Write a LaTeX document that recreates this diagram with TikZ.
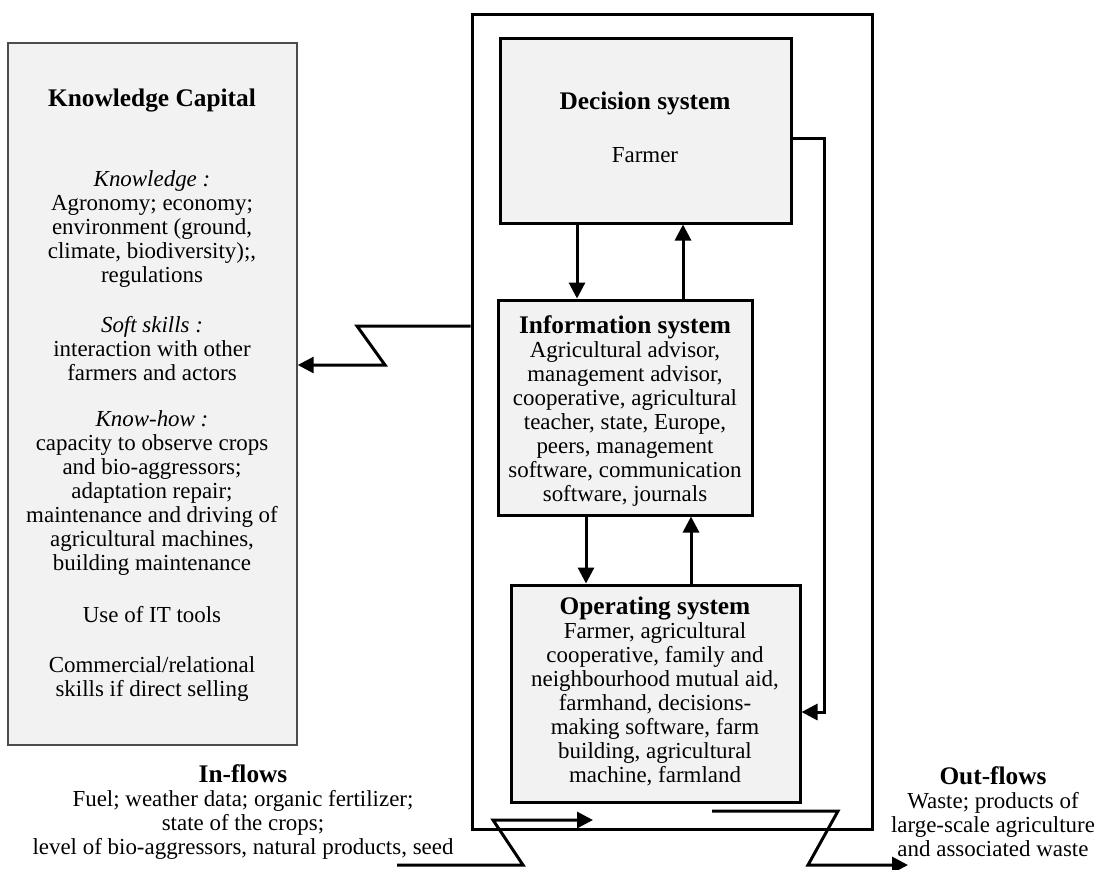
\documentclass[tikz,border=0pt]{standalone}
\usepackage{fontspec}
\setmainfont{Liberation Serif}
\usetikzlibrary{arrows.meta,fit}
\definecolor{boxgray}{HTML}{F2F2F2}
\newcommand\myfs{\fontsize{17.2}{18}\selectfont}
\newcommand\mybf{\fontsize{19}{18}\selectfont\bfseries}
\begin{document}
\begin{tikzpicture}[x=0.75pt,y=-0.75pt,
  sysbox/.style={draw, line width=2.25pt, fill=boxgray, inner sep=0pt},
  knowbox/.style={draw=black!70, line width=1.1pt, fill=boxgray, inner sep=0pt},
  framebox/.style={draw, line width=2.25pt, inner sep=0pt},
  txt/.style={font=\myfs, align=center, inner sep=0pt},
  btxt/.style={font=\mybf, align=center, inner sep=0pt},
  conn/.style={line width=2.25pt},
  arr/.style={conn, -{Triangle[length=12pt,width=12pt]}}]
\useasboundingbox (0,0) rectangle (1094,869);
% boxes
\node[framebox, fit={(472,14) (872,829)}] (frame) {};
\node[knowbox, fit={(8,43) (297,745)}] (know) {};
\node[sysbox, fit={(500,38) (791,223)}] (dec) {};
\node[sysbox, fit={(498,300) (752,515)}] (info) {};
\node[sysbox, fit={(511,585) (800,802)}] (oper) {};
% knowledge capital texts
\node[btxt] (kt) at (152,100) {Knowledge Capital};
\node[txt] (kg1) at (152,229) {\textit{Knowledge :}\\Agronomy; economy;\\environment (ground,\\climate, biodiversity);,\\regulations};
\node[txt] (kg2) at (152,349) {\textit{Soft skills :}\\interaction with other\\farmers and actors};
\node[txt] (kg3) at (152,493) {\textit{Know-how :}\\capacity to observe crops\\and bio-aggressors;\\adaptation repair;\\maintenance and driving of\\agricultural machines,\\building maintenance};
\node[txt] (kg4) at (152,615) {Use of IT tools};
\node[txt] (kg5) at (152,679) {Commercial/relational\\skills if direct selling};
% system texts
\node[btxt] (dect) at (645,103) {Decision system};
\node[txt] (decf) at (645,155) {Farmer};
\node[txt] (infot) at (625,411) {{\mybf Information system}\\Agricultural advisor,\\management advisor,\\cooperative, agricultural\\teacher, state, Europe,\\peers, management\\software, communication\\software, journals};
\node[txt] (opert) at (655,691) {{\mybf Operating system}\\Farmer, agricultural\\cooperative, family and\\neighbourhood mutual aid,\\farmhand, decisions-\\making software, farm\\building, agricultural\\machine, farmland};
% flows texts
\node[txt] (inft) at (243,812) {{\mybf In-flows}\\Fuel; weather data; organic fertilizer;\\state of the crops;\\level of bio-aggressors, natural products, seed};
\node[txt] (outft) at (993,812) {{\mybf Out-flows}\\Waste; products of\\large-scale agriculture\\and associated waste};
% coordinates
\coordinate (xa) at (577,0);
\coordinate (xb) at (683,0);
\coordinate (xc) at (586,0);
\coordinate (xd) at (691,0);
\coordinate (r1) at (824,138);
\coordinate (r2) at (824,712);
\coordinate (l1) at (357,326);
\coordinate (l2) at (385,365);
\coordinate (i0) at (397,865);
\coordinate (i1) at (523,865);
\coordinate (i2) at (493,820);
\coordinate (i3) at (593,820);
\coordinate (o0) at (712,811);
\coordinate (o1) at (838,811);
\coordinate (o2) at (808,865);
\coordinate (o3) at (908,865);
% connectors
\draw[arr] (dec.south -| xa) -- (info.north -| xa);
\draw[arr] (info.north -| xb) -- (dec.south -| xb);
\draw[arr] (info.south -| xc) -- (oper.north -| xc);
\draw[arr] (oper.north -| xd) -- (info.south -| xd);
\draw[arr] (dec.east |- r1) -- (r1) -- (r2) -- (oper.east |- r2);
\draw[arr] (frame.west |- l1) -- (l1) -- (l2) -- (know.east |- l2);
\draw[arr] (i0) -- (i1) -- (i2) -- (i3);
\draw[arr] (o0) -- (o1) -- (o2) -- (o3);
\end{tikzpicture}
\end{document}
